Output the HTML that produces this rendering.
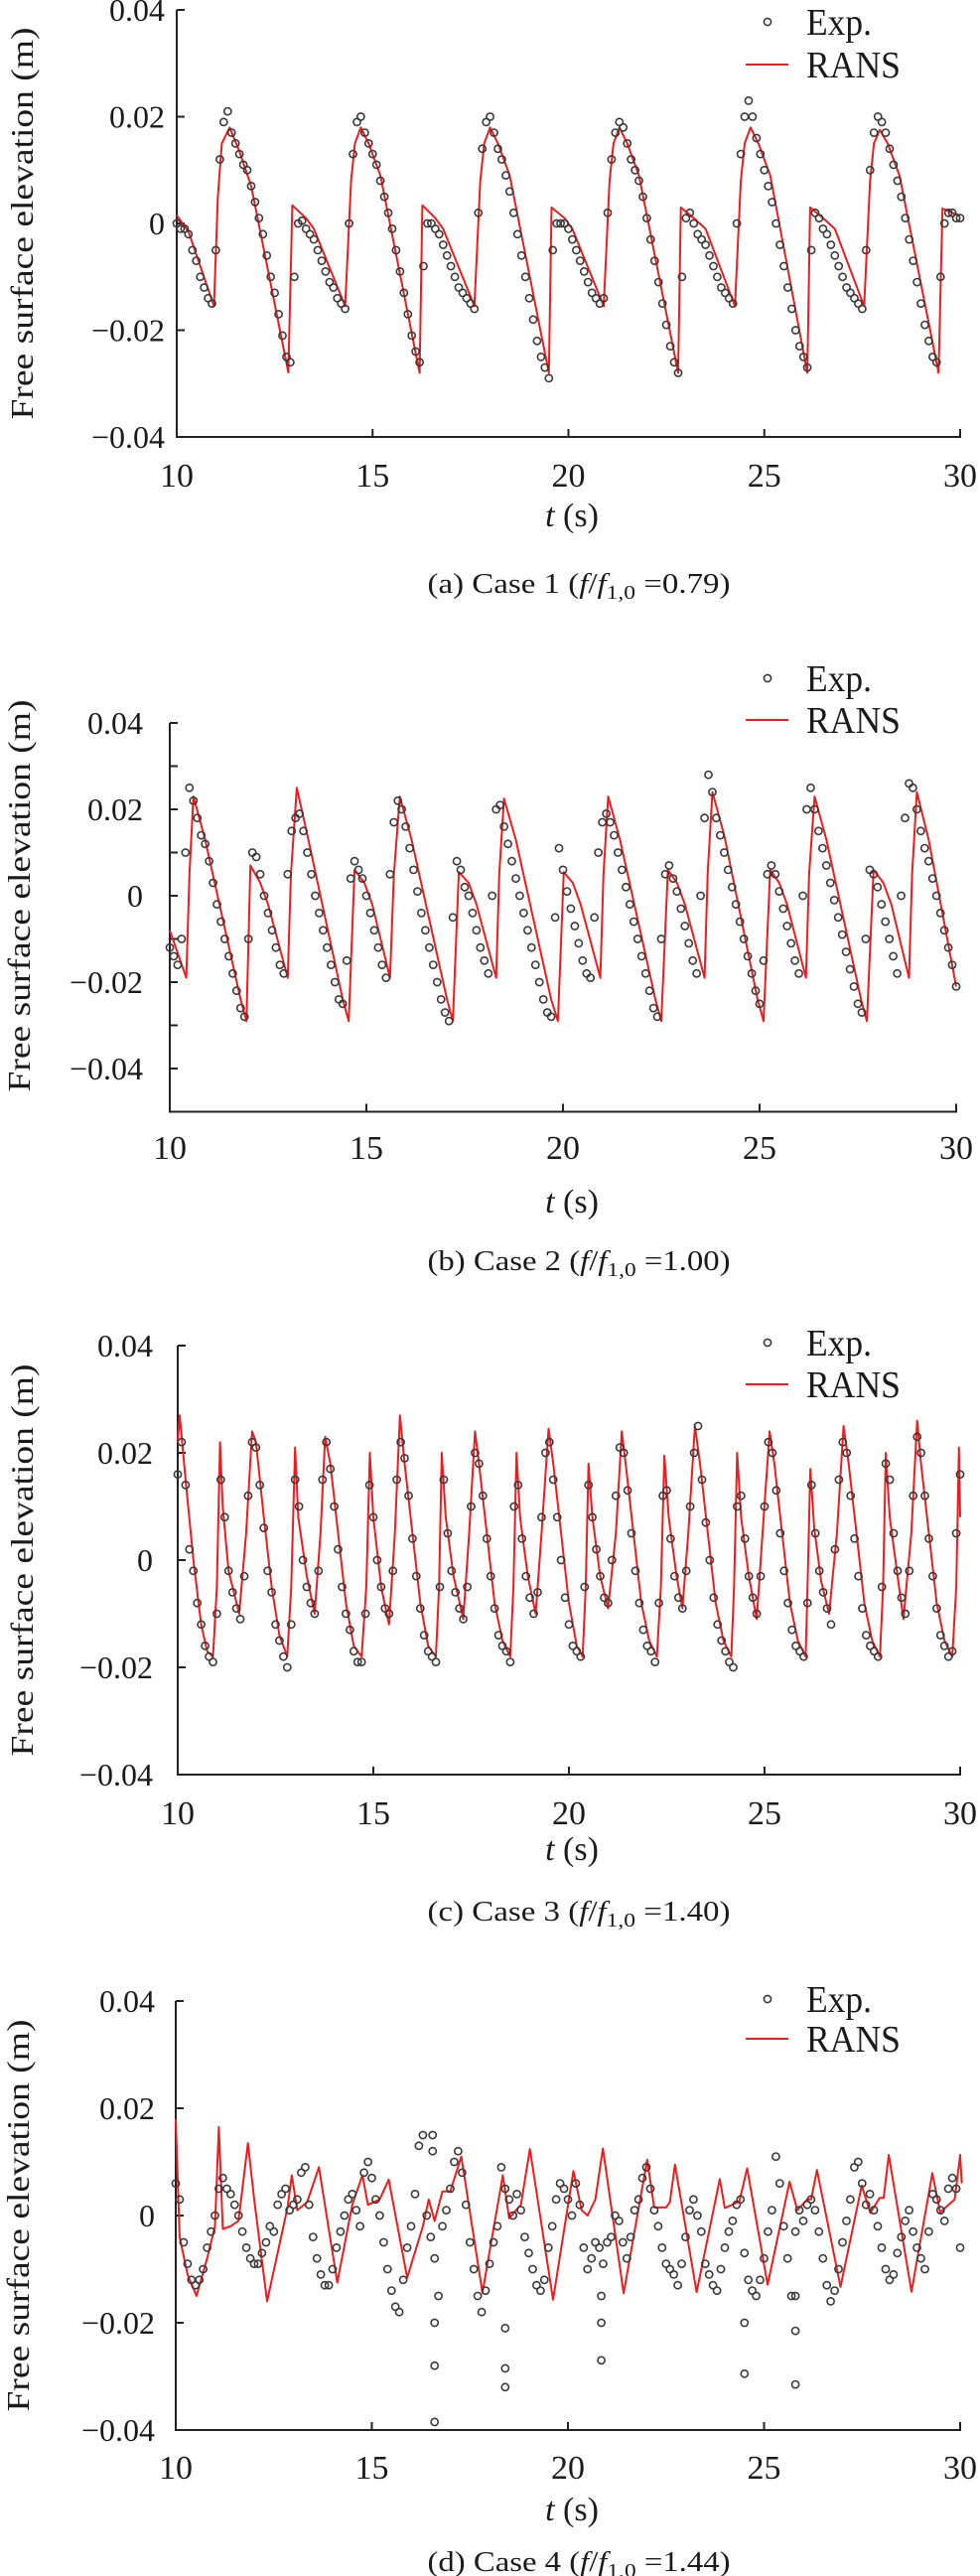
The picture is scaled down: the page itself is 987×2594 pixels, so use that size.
<!DOCTYPE html>
<html>
<head>
<meta charset="utf-8">
<style>
  html,body{margin:0;padding:0;background:#fff;}
  svg{display:block;}
  text{font-family:"Liberation Serif","Times New Roman",serif;fill:#1a1a1a;}
</style>
</head>
<body>
<svg id="fig" width="987" height="2594" viewBox="0 0 987 2594" xmlns="http://www.w3.org/2000/svg"></svg>
<script>
// ---------- DATA (mm; time in s) ----------
const xTicks = [10, 15, 20, 25, 30];
const yTickLabels = ["0.04", "0.02", "0", "\u22120.02", "\u22120.04"];
const yTickValues = [40, 20, 0, -20, -40];
const captions = ["(a) Case 1 (", "(b) Case 2 (", "(c) Case 3 (", "(d) Case 4 ("];
const ratios = ["0.79", "1.00", "1.40", "1.44"];

// Case 1 RANS vertices [t, v]
const rans1 = [[10.0,1.5],[10.3,-1.5],[10.95,-15.5],[11.05,5],[11.15,15],[11.35,18],[11.6,13.5],[11.9,7],[12.85,-27.9],[12.95,3.4],[13.3,1],[13.5,-1],[14.3,-15.5],[14.45,8],[14.55,15],[14.7,18],[14.9,15],[15.2,9],[16.2,-28],[16.27,3.4],[16.6,1],[16.8,-1],[17.6,-15.5],[17.75,8],[17.85,15],[18.0,18],[18.2,15],[18.5,9],[19.5,-28],[19.57,3],[19.9,1],[20.1,-1],[20.9,-15.5],[21.05,8],[21.15,15],[21.3,18],[21.5,15],[21.8,9],[22.8,-28],[22.87,3],[23.2,1],[23.5,-1],[24.25,-15.5],[24.4,8],[24.5,15],[24.65,18],[24.85,15],[25.15,9],[26.1,-28],[26.17,3],[26.5,1],[26.8,-1],[27.55,-15.5],[27.7,8],[27.8,15],[27.95,17.5],[28.15,15],[28.45,9],[29.45,-28],[29.55,2.8],[29.8,2],[30.0,1.5]];
// Case 1 experiment, uniformly sampled from 10 s to 30 s
const exp1 = [0,-1,-1,-2,-5,-7,-10,-12,-14,-15,-5,12,19,21,17,15,13,11,10,7,4,1,-2,-6,-10,-13,-17,-21,-25,-26,-10,0,0.5,-1,-2,-3,-5,-7,-9,-11,-12,-14,-15,-16,0,13,19,20,17,15,13,11,8,5,2,-1,-5,-9,-13,-17,-21,-24,-26,-8,0,0,-1,-2,-4,-6,-8,-10,-12,-13,-14,-15,-16,2,14,19,20,17,14,12,9,6,2,-2,-6,-10,-14,-18,-22,-25,-27,-29,-5,0,0,0,-1,-3,-5,-7,-9,-11,-13,-14,-15,-14,2,12,17,19,18,15,12,10,8,5,1,-3,-7,-11,-15,-19,-23,-26,-28,-10,1,2,0,-2,-3,-4,-6,-8,-10,-12,-13,-14,-15,0,13,20,23,20,16,13,10,7,4,0,-4,-8,-12,-16,-20,-23,-25,-27,-5,2,1,-1,-2,-4,-6,-8,-10,-12,-13,-14,-15,-16,-5,10,17,20,19,17,14,11,8,5,1,-3,-7,-11,-15,-19,-22,-25,-26,-10,0,2,2,1,1];

// Case 2
const rans2 = [[10.0,-8],[10.42,-19],[10.5,5],[10.6,23],[10.9,13],[11.8,-24],[11.95,-29],[12.05,7],[12.3,3],[12.5,-2],[13.0,-19],[13.08,5],[13.23,25],[13.5,14],[14.4,-24],[14.55,-29],[14.7,6],[14.95,3],[15.15,-2],[15.6,-19],[15.7,5],[15.85,23],[16.15,13],[17.05,-24],[17.2,-29],[17.35,5.5],[17.6,3],[17.8,-2],[18.3,-19],[18.38,5],[18.5,22.5],[18.8,13],[19.7,-24],[19.87,-29],[20.02,5.5],[20.25,3],[20.45,-2],[20.95,-19],[21.03,5],[21.15,23],[21.45,13],[22.35,-24],[22.5,-29],[22.67,6],[22.9,3],[23.1,-2],[23.6,-19],[23.68,5],[23.8,24],[24.1,14],[24.95,-24],[25.1,-29],[25.27,6],[25.5,3],[25.7,-2],[26.18,-19],[26.26,5],[26.4,23],[26.7,13],[27.58,-24],[27.73,-29],[27.9,6],[28.15,3],[28.35,-2],[28.8,-19],[28.88,5],[29.0,24],[29.3,13],[30.0,-21]];
const exp2 = [-12,-14,-16,-10,10,25,22,18,14,12,8,3,-2,-6,-10,-14,-18,-22,-26,-28,-10,10,9,5,0,-4,-8,-12,-16,-18,5,15,18,19,15,10,5,0,-4,-8,-12,-16,-20,-24,-25,-15,4,8,6,4,0,-4,-8,-12,-16,-19,5,17,22,20,16,11,6,1,-4,-8,-12,-16,-20,-24,-27,-29,-5,8,6,2,0,-4,-8,-12,-15,-18,0,20,21,16,12,8,4,0,-4,-8,-12,-16,-20,-24,-27,-28,-5,11,6,1,-3,-7,-11,-15,-18,-19,-5,10,17,19,17,14,10,6,2,-2,-6,-10,-14,-18,-22,-26,-28,-10,5,7,4,1,-3,-7,-11,-15,-18,0,18,28,24,18,14,10,6,2,-2,-6,-10,-14,-18,-22,-25,-15,5,7,5,1,-3,-7,-11,-15,-18,0,20,25,20,15,11,7,3,-1,-5,-9,-13,-17,-21,-25,-27,-10,6,5,2,-2,-6,-10,-14,-18,0,18,26,25,20,15,11,8,4,0,-4,-8,-12,-16,-21];

// Case 3
const rans3 = [[10.0,22],[10.05,27],[10.2,15],[10.4,0],[10.6,-12],[10.75,-17],[10.9,-18],[11.0,-5],[11.08,22],[11.15,10],[11.3,-2],[11.57,-10],[11.75,5],[11.9,24],[12.0,22],[12.2,8],[12.4,-5],[12.6,-14],[12.8,-18],[12.9,-5],[13.0,21],[13.08,8],[13.3,-3],[13.5,-10],[13.65,5],[13.77,23],[13.9,18],[14.1,5],[14.3,-8],[14.5,-16],[14.7,-18],[14.82,-5],[14.91,20],[15.0,8],[15.2,-5],[15.4,-12],[15.55,5],[15.68,27],[15.8,18],[16.0,5],[16.2,-8],[16.4,-16],[16.6,-18],[16.68,-5],[16.75,20],[16.85,8],[17.05,-3],[17.3,-11],[17.45,5],[17.6,24],[17.7,18],[17.9,5],[18.1,-8],[18.3,-15],[18.5,-18],[18.58,-5],[18.66,20],[18.75,8],[18.95,-3],[19.15,-10],[19.3,5],[19.48,24.5],[19.6,18],[19.8,5],[20.0,-8],[20.2,-16],[20.35,-18],[20.43,-5],[20.5,18],[20.6,8],[20.8,-3],[21.0,-9],[21.2,5],[21.35,24],[21.45,18],[21.65,5],[21.85,-8],[22.05,-15],[22.25,-18],[22.35,-5],[22.44,19.5],[22.55,8],[22.75,-3],[22.9,-9],[23.05,5],[23.22,25],[23.35,18],[23.55,5],[23.75,-8],[23.95,-15],[24.15,-18],[24.22,-5],[24.3,20],[24.4,8],[24.6,-3],[24.8,-11],[24.95,5],[25.13,24],[25.25,18],[25.45,5],[25.65,-8],[25.85,-15],[26.05,-18],[26.1,-5],[26.17,17],[26.27,6],[26.45,-4],[26.65,-10],[26.85,5],[27.02,25],[27.15,18],[27.35,5],[27.55,-8],[27.75,-15],[27.95,-18],[28.03,-5],[28.1,20],[28.2,8],[28.4,-3],[28.55,-11],[28.75,5],[28.9,26],[29.0,18],[29.2,5],[29.4,-8],[29.6,-15],[29.8,-18],[29.9,-5],[29.97,21],[30.0,8]];
const exp3 = [16,22,14,2,-2,-8,-12,-16,-18,-19,-10,15,8,-2,-6,-9,-11,-3,12,22,21,14,6,-2,-6,-12,-15,-18,-20,-12,15,10,0,-5,-8,-10,-2,15,22,17,10,2,-5,-10,-13,-17,-19,-19,-10,14,8,0,-5,-9,-10,-2,15,22,19,12,4,-3,-9,-14,-17,-18,-19,-5,15,5,-2,-6,-9,-11,-5,10,20,18,12,4,-3,-9,-14,-16,-17,-19,10,14,4,-3,-7,-10,-6,8,20,22,15,8,0,-7,-12,-16,-17,-18,-5,14,8,2,-3,-7,-8,0,12,21,20,13,5,-2,-8,-13,-16,-17,-19,-8,12,13,4,-3,-7,-9,-2,10,20,25,15,7,0,-7,-12,-15,-17,-19,-20,10,12,4,-3,-7,-10,-3,10,22,20,13,5,-2,-8,-13,-16,-17,-18,-8,14,5,-2,-6,-9,-12,2,15,22,20,12,4,-3,-9,-14,-16,-17,-18,-5,18,15,5,-2,-7,-10,-2,12,23,20,12,4,-3,-9,-14,-16,-18,-17,5,16];

// Case 4
const rans4 = [[10.0,18],[10.1,-4],[10.3,-11],[10.53,-15],[10.8,-8],[11.0,-2],[11.1,16.5],[11.2,-2.5],[11.4,-2],[11.6,-1],[11.84,13.5],[12.0,3],[12.33,-16],[12.85,1.5],[12.96,7.5],[13.1,1],[13.35,2.5],[13.65,9],[14.12,-12.5],[14.5,2],[14.76,7.5],[14.9,2],[15.2,3],[15.43,6.7],[15.9,-11.6],[16.3,-2],[16.45,3],[16.6,-1],[16.8,4.5],[17.0,4.5],[17.28,11],[17.82,-14.4],[18.34,7.5],[18.5,-0.5],[18.8,2],[19.03,12.4],[19.62,-15.7],[20.14,8.3],[20.35,1],[20.5,0],[20.7,3],[20.89,12.5],[21.42,-14.5],[22.02,10.4],[22.2,1.5],[22.5,1.5],[22.6,2.5],[22.73,9.5],[23.28,-14.3],[23.87,6.8],[24.0,1.4],[24.37,2.6],[24.57,8.8],[25.09,-12.9],[25.65,6.3],[25.85,1],[26.1,3],[26.2,3],[26.35,8.5],[26.95,-13.3],[27.49,5.6],[27.71,0.5],[27.95,3.3],[28.05,3.3],[28.18,11.3],[28.76,-14.2],[29.29,7.9],[29.49,0.6],[29.86,3],[30.0,11.3],[30.04,6]];
const exp4 = [6,3,-5,-9,-12,-13,-12,-10,-6,-3,0,5,7,5,4,2,0,-3,-6,-8,-9,-9,-7,-5,-2,-3,2,4,5,1,2,3,8,9,2,-4,-8,-11,-13,-13,-10,-6,-3,0,3,4,1,-2,8,10,7,3,0,-5,-10,-14,-17,-18,-12,-6,-2,4,13,15,0,-4,-8,-15,-2,1,5,10,12,8,2,-5,-10,-15,-18,-14,-9,-5,-2,9,5,3,0,4,1,-4,-7,-10,-13,-14,-12,-6,-2,3,6,5,3,0,6,2,-6,-10,-8,-5,-6,-9,-5,-4,0,-1,-5,-8,-4,1,3,7,9,5,1,-2,-6,-9,-10,-11,-13,-9,-4,1,3,0,-3,-9,-11,-13,-14,-10,-6,-3,-1,2,3,-7,-12,-14,-15,-12,-8,-3,1,11,6,-2,-8,-15,-3,1,-1,2,3,1,-3,-8,-13,-16,-14,-10,-5,-1,3,9,10,6,2,4,1,-2,-6,-10,-12,-11,-7,-4,-1,1,-3,-6,-8,-10,-3,4,3,1,-1,5,7,5,-6];
// Case 4 scattered outlier samples [t, v]
const exp4Outliers = [[16.6,-20],[16.6,-28],[16.6,-38.5],[16.55,12],[16.55,15],[18.4,-21],[18.4,-28.5],[18.4,-32],[20.85,-20],[20.85,-27],[20.85,-15],[24.5,-20],[24.5,-29.5],[25.8,-21.5],[25.8,-31.5],[25.8,-15]];

// ---------- LAYOUT ----------
const panels = [
  {id:1, rans:rans1, exp:exp1, out:[], axX:178, x30:967, y0:225, pxPerMm:5.375, yTop:40, yBot:-40, minor:false,
   tickLblRight:166, yLblX:22, tickY:478, tY:518, capY:587, legY:[22,65]},
  {id:2, rans:rans2, exp:exp2, out:[], axX:171, x30:963, y0:902, pxPerMm:4.35, yTop:40, yBot:-50, minor:true,
   tickLblRight:144, yLblX:19, tickY:1155, tY:1209, capY:1269, legY:[683,725]},
  {id:3, rans:rans3, exp:exp3, out:[], axX:179, x30:967, y0:1571, pxPerMm:5.4, yTop:40, yBot:-40, minor:false,
   tickLblRight:154, yLblX:22, tickY:1825, tY:1861, capY:1924, legY:[1352,1394]},
  {id:4, rans:rans4, exp:exp4, out:exp4Outliers, axX:177, x30:967, y0:2231, pxPerMm:5.4, yTop:40, yBot:-40, minor:false,
   tickLblRight:156, yLblX:18, tickY:2484, tY:2526, capY:2579, legY:[2013,2053]}
];

const NS = "http://www.w3.org/2000/svg";
const svg = document.getElementById('fig');
function mk(tag, attrs, parent){
  const e = document.createElementNS(NS, tag);
  for (const k in attrs) e.setAttribute(k, attrs[k]);
  (parent||svg).appendChild(e);
  return e;
}

panels.forEach((p, pi) => {
  const g = mk('g', {});
  
  
  const xs = t => p.axX + (t - 10) * (p.x30 - p.axX) / 20;
  const ys = v => p.y0 - v * p.pxPerMm;
  const yAxisTop = ys(p.yTop), yAxisBot = ys(p.yBot);

  const ax = mk('path', {d:`M${p.axX},${yAxisTop} L${p.axX},${yAxisBot} L${p.x30+1},${yAxisBot}`, fill:'none', stroke:'#222', 'stroke-width':2}, g);
  
  

  const yVals = [];
  for (let v = p.yTop; v >= p.yBot; v -= (p.minor ? 10 : 20)) yVals.push(v);
  yVals.forEach(v => {
    const tk = mk('line', {x1:p.axX, x2:p.axX+8, y1:ys(v), y2:ys(v), stroke:'#222', 'stroke-width':2}, g);
    
    
  });
  yTickValues.forEach((v, i) => {
    const tl = mk('text', {x:p.tickLblRight, y:ys(v)+11, 'text-anchor':'end', 'font-size':32}, g);
    tl.textContent = yTickLabels[i];
    
    
  });
  xTicks.forEach(t => {
    const tk = mk('line', {x1:xs(t), x2:xs(t), y1:yAxisBot, y2:yAxisBot-8, stroke:'#222', 'stroke-width':2}, g);
    
    
    const tl = mk('text', {x:xs(t), y:p.tickY+12, 'text-anchor':'middle', 'font-size':34}, g);
    tl.textContent = String(t);
    
    
  });
  const yl = mk('text', {x:0, y:0, 'text-anchor':'middle', 'font-size':32, textLength:395, lengthAdjust:'spacingAndGlyphs',
    transform:`translate(${p.yLblX+11},${p.y0}) rotate(-90)`}, g);
  yl.textContent = 'Free surface elevation (m)';
  
  
  const xl = mk('text', {x:576, y:p.tY+12, 'text-anchor':'middle', 'font-size':34}, g);
  xl.innerHTML = '<tspan font-style="italic">t</tspan> (s)';
  
  

  const d = p.rans.map((q, i) => (i ? 'L' : 'M') + xs(q[0]).toFixed(1) + ',' + ys(q[1]).toFixed(1)).join(' ');
  const rl = mk('path', {d:d, fill:'none', stroke:'#ee1c1c', 'stroke-width':2, 'stroke-linejoin':'round'}, g);
  
  

  const eg = mk('g', {fill:'none', stroke:'#3a3a3a', 'stroke-width':1.6}, g);
  
  
  const n = p.exp.length;
  p.exp.forEach((v, i) => {
    const t = 10 + i * 20 / (n - 1);
    const c = mk('circle', {cx:xs(t).toFixed(1), cy:ys(v).toFixed(1), r:3.6}, eg);
    
    
  });
  p.out.forEach(q => {
    const c = mk('circle', {cx:xs(q[0]).toFixed(1), cy:ys(q[1]).toFixed(1), r:3.6}, eg);
    
    
  });

  const lg = mk('g', {}, g);
  
  
  const lm = mk('circle', {cx:773, cy:p.legY[0], r:3.6, fill:'none', stroke:'#3a3a3a', 'stroke-width':1.6}, lg);
  
  
  const lt1 = mk('text', {x:812, y:p.legY[0]+13, 'font-size':38, textLength:66, lengthAdjust:'spacingAndGlyphs'}, lg);
  lt1.textContent = 'Exp.';
  
  
  const ll = mk('line', {x1:751, x2:794, y1:p.legY[1], y2:p.legY[1], stroke:'#ee1c1c', 'stroke-width':2}, lg);
  
  
  const lt2 = mk('text', {x:812, y:p.legY[1]+13, 'font-size':38, textLength:95, lengthAdjust:'spacingAndGlyphs'}, lg);
  lt2.textContent = 'RANS';
  
  

  const cap = mk('text', {x:583, y:p.capY+10, 'text-anchor':'middle', 'font-size':28, textLength:305, lengthAdjust:'spacingAndGlyphs'}, g);
  cap.innerHTML = captions[pi] + '<tspan font-style="italic">f</tspan>/<tspan font-style="italic">f</tspan><tspan font-size="20" dy="6">1,0</tspan><tspan dy="-6"> =' + ratios[pi] + ')</tspan>';
  
  
});
</script>
</body>
</html>
